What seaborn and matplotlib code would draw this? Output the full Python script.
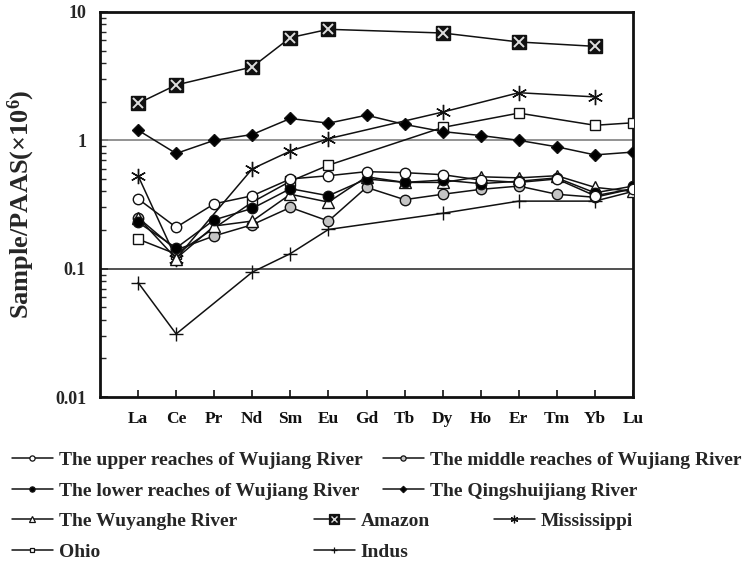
import numpy as np
import pandas as pd
import seaborn as sns
import matplotlib
matplotlib.use("Agg")
import matplotlib.pyplot as plt
from matplotlib.lines import Line2D
from matplotlib.ticker import LogLocator, FixedFormatter, FixedLocator, NullFormatter

nan = np.nan
elements = ['La', 'Ce', 'Pr', 'Nd', 'Sm', 'Eu', 'Gd', 'Tb', 'Dy', 'Ho', 'Er', 'Tm', 'Yb', 'Lu']

upper = [0.35, 0.21, 0.32, 0.37, 0.50, 0.53, 0.57, 0.56, 0.54, 0.49, 0.47, 0.50, 0.37, 0.42]
middle = [0.25, 0.14, 0.18, 0.22, 0.30, 0.235, 0.43, 0.345, 0.38, 0.415, 0.44, 0.38, 0.36, 0.42]
lower = [0.23, 0.145, 0.24, 0.295, 0.42, 0.37, 0.50, 0.47, 0.49, 0.46, 0.48, 0.51, 0.39, 0.44]
qingshuijiang = [1.20, 0.79, 1.00, 1.11, 1.48, 1.36, 1.57, 1.33, 1.17, 1.09, 1.00, 0.89, 0.77, 0.81]
wuyanghe = [0.25, 0.12, 0.215, 0.235, 0.38, 0.33, 0.52, 0.47, 0.47, 0.52, 0.51, 0.53, 0.43, 0.40]
amazon = [1.94, 2.70, nan, 3.73, 6.32, 7.33, nan, nan, 6.86, nan, 5.84, nan, 5.40, nan]
mississippi = [0.53, 0.12, nan, 0.60, 0.825, 1.03, nan, nan, 1.66, nan, 2.35, nan, 2.18, nan]
ohio = [0.17, 0.13, nan, 0.33, 0.48, 0.64, nan, nan, 1.26, nan, 1.63, nan, 1.31, 1.37]
indus = [0.078, 0.031, nan, 0.094, 0.131, 0.202, nan, nan, 0.27, nan, 0.336, nan, 0.336, 0.40]

series_names = [
    'The upper reaches of Wujiang River', 'The middle reaches of Wujiang River',
    'The lower reaches of Wujiang River', 'The Qingshuijiang River',
    'The Wuyanghe River', 'Amazon', 'Mississippi', 'Ohio', 'Indus']
series_values = [upper, middle, lower, qingshuijiang, wuyanghe, amazon, mississippi, ohio, indus]

y_ticks = [0.01, 0.1, 1, 10]
y_tick_labels = ['0.01', '0.1', '1', '10']

sns.set_theme(style='white')
plt.rcParams['font.family'] = ['Liberation Serif', 'DejaVu Serif']
plt.rcParams['font.weight'] = 'bold'
plt.rcParams['mathtext.fontset'] = 'custom'
plt.rcParams['mathtext.rm'] = 'Liberation Serif:bold'
plt.rcParams['mathtext.it'] = 'Liberation Serif:bold'
plt.rcParams['mathtext.bf'] = 'Liberation Serif:bold'

rows = []
for name, vals in zip(series_names, series_values):
    for i, v in enumerate(vals):
        rows.append({'series': name, 'pos': i, 'element': elements[i], 'value': v})
df = pd.DataFrame(rows)

styles = {
    'The upper reaches of Wujiang River': dict(marker='o', markersize=7.5, markerfacecolor='white'),
    'The middle reaches of Wujiang River': dict(marker='o', markersize=7.5, markerfacecolor='#c4c4c4'),
    'The lower reaches of Wujiang River': dict(marker='o', markersize=7.5, markerfacecolor='black'),
    'The Qingshuijiang River': dict(marker='D', markersize=6.5, markerfacecolor='black'),
    'The Wuyanghe River': dict(marker='^', markersize=8, markerfacecolor='white'),
    'Amazon': dict(marker='s', markersize=10.5, markerfacecolor='#111111'),
    'Mississippi': dict(marker=(6, 2, 0), markersize=11, markerfacecolor='black'),
    'Ohio': dict(marker='s', markersize=7, markerfacecolor='white'),
    'Indus': dict(marker='+', markersize=10, markerfacecolor='black'),
}

fig = plt.figure(figsize=(7.53, 5.64), dpi=100)
ax = fig.add_axes([100 / 753, 1 - 397 / 564, 533 / 753, 385 / 564])
ax.set_yscale('log')

ax.axhline(1, color='#8a8a8a', lw=1.3, zorder=1)
ax.axhline(0.1, color='#222222', lw=1.1, zorder=1)

draw_order = ['Indus', 'Ohio', 'Mississippi', 'Amazon', 'The Qingshuijiang River',
              'The middle reaches of Wujiang River', 'The Wuyanghe River',
              'The lower reaches of Wujiang River', 'The upper reaches of Wujiang River']
for k, name in enumerate(draw_order):
    sub = df[df['series'] == name].dropna()
    st = styles[name]
    sns.lineplot(data=sub, x='pos', y='value', ax=ax, estimator=None, sort=False,
                 color='#111111', linewidth=1.1, markeredgecolor='#111111',
                 markeredgewidth=1.0, zorder=3 + k, **st)
    if name == 'Amazon':
        sns.lineplot(data=sub, x='pos', y='value', ax=ax, estimator=None, sort=False,
                     color='#dddddd', linestyle='none', marker='x', markersize=7,
                     markeredgecolor='#dddddd', markeredgewidth=1.4, zorder=3 + k + 0.5)

ax.set_xlim(-1, 13)
ax.set_ylim(0.01, 10)
ax.xaxis.set_major_locator(FixedLocator(list(range(len(elements)))))
ax.set_xticklabels(elements, fontsize=12.5, fontweight='bold')
ax.yaxis.set_major_locator(FixedLocator(y_ticks))
ax.yaxis.set_major_formatter(FixedFormatter(y_tick_labels))
ax.yaxis.set_minor_locator(LogLocator(base=10, subs=np.arange(2, 10)))
ax.yaxis.set_minor_formatter(NullFormatter())
for lab in ax.get_yticklabels():
    lab.set_fontsize(13)
    lab.set_fontweight('bold')
ax.tick_params(axis='x', direction='in', length=5, width=1.2, pad=10, bottom=True, colors='#111111')
ax.tick_params(axis='y', which='major', direction='in', length=6, width=1.2, pad=10, left=True)
ax.tick_params(axis='y', which='minor', direction='in', length=4, width=1.0, left=True)
ax.set_xlabel('')
ax.set_ylabel('Sample/PAAS(×10$^{6}$)', fontsize=19, fontweight='bold')
ax.yaxis.set_label_coords(-0.118, 0.5)
for sp in ax.spines.values():
    sp.set_visible(True)
    sp.set_color('#111111')
    sp.set_linewidth(2.0)

def handle(name):
    st = dict(styles[name])
    st['markersize'] = st['markersize'] * 0.5
    h = Line2D([], [], color='#111111', linewidth=1.1, markeredgecolor='#111111',
               markeredgewidth=0.9, **st)
    if name == 'Amazon':
        st['markersize'] = 7
        h = Line2D([], [], color='#111111', linewidth=1.1, markeredgecolor='#111111',
                   markeredgewidth=0.9, **st)
        hx = Line2D([], [], color='#dddddd', linestyle='none', marker='x', markersize=4.5,
                    markeredgecolor='#dddddd', markeredgewidth=1.0)
        return (h, hx)
    return h

legend_pos = {
    'The upper reaches of Wujiang River': (12, 460),
    'The middle reaches of Wujiang River': (383, 460),
    'The lower reaches of Wujiang River': (12, 491),
    'The Qingshuijiang River': (383, 491),
    'The Wuyanghe River': (12, 521),
    'Amazon': (314, 521),
    'Mississippi': (494, 521),
    'Ohio': (12, 552),
    'Indus': (314, 552),
}
for name in series_names:
    x, y = legend_pos[name]
    fig.legend([handle(name)], [name], loc='center left',
               bbox_to_anchor=(x / 753, 1 - y / 564), frameon=False,
               borderpad=0, borderaxespad=0, handlelength=2.1, handletextpad=0.3,
               prop={'family': 'Liberation Serif', 'weight': 'bold', 'size': 14})

fig.savefig('out.png', dpi=100)
